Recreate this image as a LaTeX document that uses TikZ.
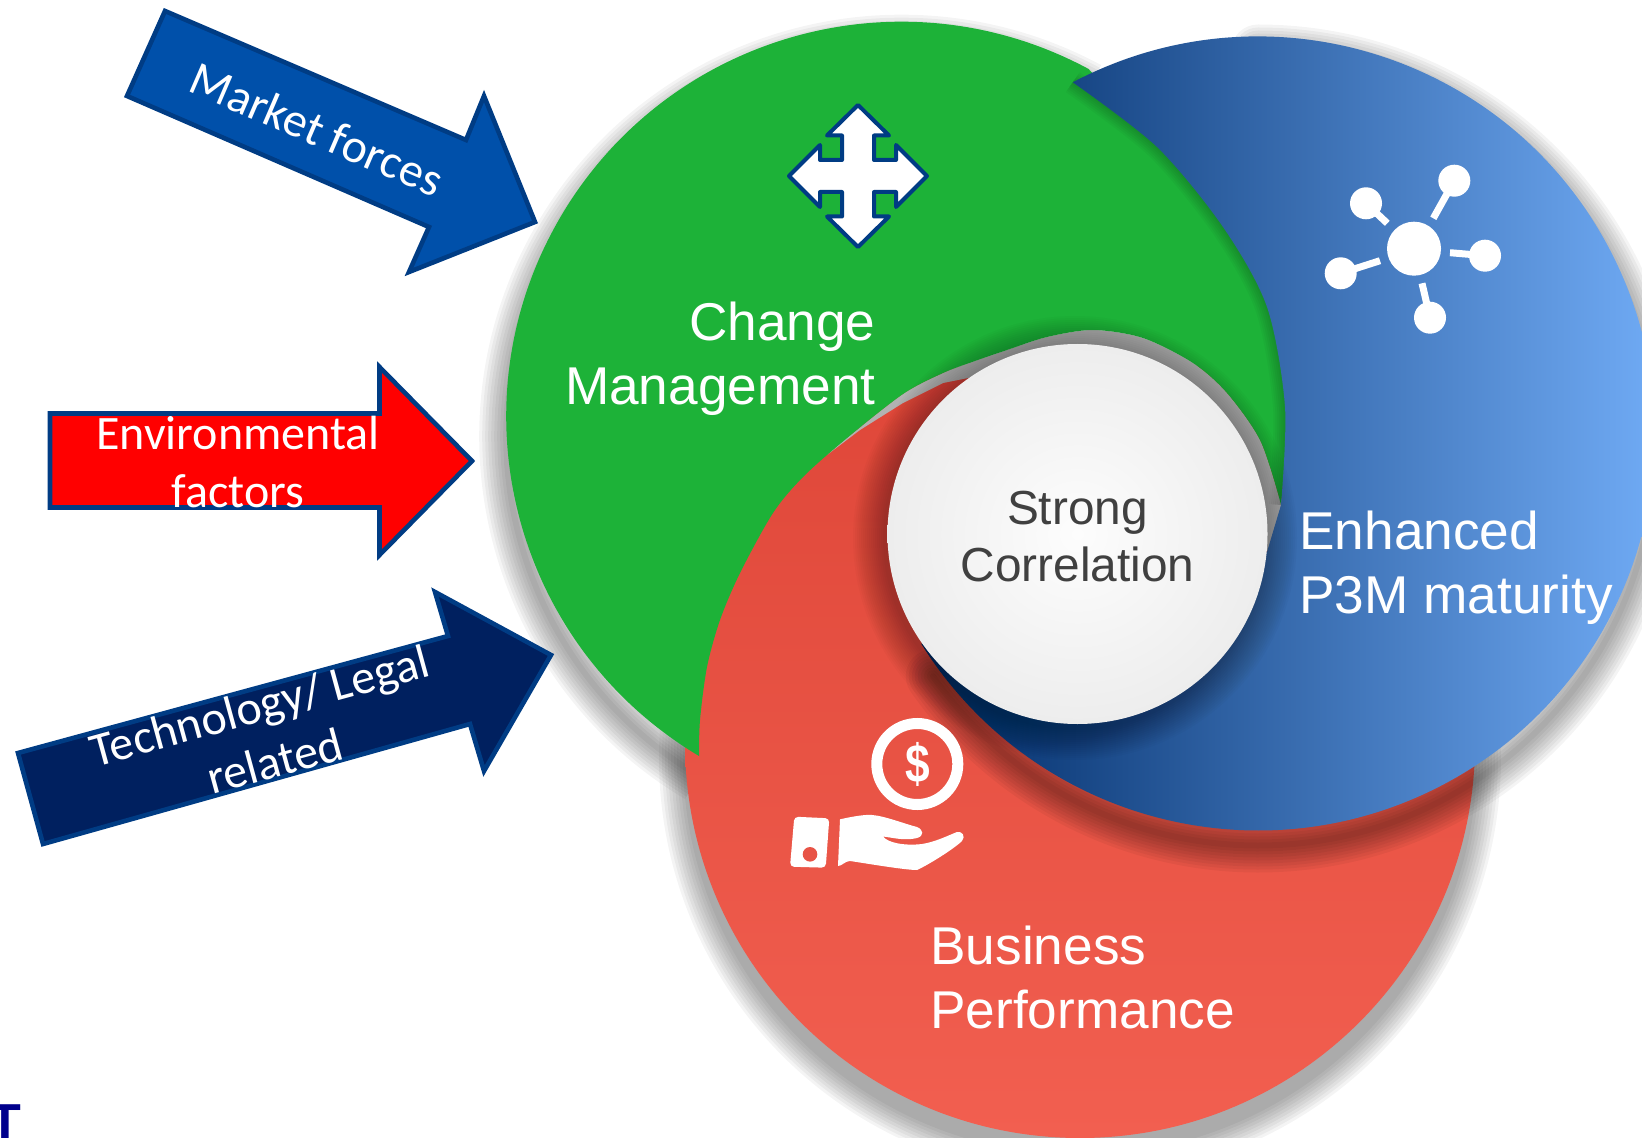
\documentclass[tikz,border=0pt]{standalone}
\usepackage{fontspec}
\usepackage{xcolor}
\setmainfont{Liberation Sans}
\newfontfamily\carfont{Carlito}
\usetikzlibrary{
    calc,
    positioning
}
\definecolor{grnc}{HTML}{1DB238}
\definecolor{edgec}{HTML}{003C84}
\definecolor{mktc}{HTML}{0050AA}
\definecolor{navyc}{HTML}{00205F}
\definecolor{txtc}{HTML}{404040}
\definecolor{redt}{HTML}{DE4638}
\definecolor{redb}{HTML}{F25F50}
\definecolor{redm}{HTML}{E85346}
\definecolor{blul}{HTML}{002C68}
\definecolor{blum}{HTML}{3570B8}
\definecolor{blur}{HTML}{78B4FF}
\definecolor{whti}{HTML}{FDFDFD}
\definecolor{whte}{HTML}{EDEDED}
\definecolor{logoc}{HTML}{00008C}
\tikzset{
    arw/.style={draw=edgec, line width=2.3pt, line join=miter},
    arwtxt/.style={text=white, align=center, inner sep=0pt, font=\carfont\fontsize{24}{28.8}\selectfont},
    lbl/.style={text=white, inner sep=0pt, font=\fontsize{26.6}{32}\selectfont},
    soft/.style={black, opacity=.045},
    ico/.style={white, line width=3.5pt}
}
\newcommand{\greenpath}{(699,756) arc[start angle=120.8, end angle=298.3, radius=395] -- (1300,300) -- (1281,505)
    -- plot[smooth] coordinates {(1279,497) (1260,440) (1227,393) (1193,363) (1143,338) (1093,330) (1047,337) (1007,350) (975,361) (943,373) (903,394) (847,438) (803,477) (773,513) (740,573) (720,620) (707,667) (700,720) (699,756)} -- cycle}
\newcommand{\bluepath}{(1072.8,82.3) arc[start angle=242.2, end angle=508, radius=397] -- (1080,540) -- (1267,552) -- (1281,505)
    -- plot[smooth] coordinates {(1281,505) (1285,407) (1267,307) (1223,227) (1157,147) (1072.8,82.3)} -- cycle}
\begin{document}
\begin{tikzpicture}[x=0.5pt, y=-0.5pt]
    \clip (0,0) rectangle (1642,1138);

    \foreach \w in {6,12,...,54}
        \draw[soft, line width=\w*0.5pt, shift={(0,20)}] (699,756) arc[start angle=120.8, end angle=298.3, radius=395];
    \foreach \rr in {397,400,...,421}
        \fill[soft] (1080,758) circle[radius=\rr];
    \shade[top color=redt, bottom color=redb] (1080,743) circle[radius=395];

    \fill[gray!60] plot[smooth] coordinates {(827,455) (847,438) (903,394) (943,373) (975,361) (1007,350) (1047,337) (1093,330) (1143,338) (1193,363) (1227,393) (1260,440) (1279,497)}
        -- (1284,500) -- (1284,552) -- (1077,534) -- (973,377) -- (943,383) -- (903,403) -- (860,430) -- cycle;
    \fill[grnc] \greenpath;

    \foreach \w in {6,12,...,54}
        \draw[soft, line width=\w*0.5pt, line cap=round, shift={(0,15)}] (1258,36.5) arc[start angle=270, end angle=505, radius=397];
    \foreach \w in {4,8,...,24}
        \draw[black, opacity=.03, line width=\w*0.5pt] plot[smooth] coordinates {(1281,505) (1285,407) (1267,307) (1223,227) (1157,147) (1072.8,82.3)};
    \shade[left color=blul, middle color=blum, right color=blur] \bluepath;

    \foreach \rr in {192,194,...,222}
        \fill[black, opacity=.018] (1075,538) circle[radius=\rr];
    \node[circle, minimum size=190pt, inner sep=0pt, inner color=whti, outer color=whte] (nw) at (1077.5,534) {};
    \node[text=txtc, inner sep=0pt, align=center, font=\fontsize{23.9}{28.5}\selectfont] (ns) at (1077.5,536.5) {Strong\\Correlation};

    \node[lbl, align=right, anchor=east] (nc) at (876,359) {Change\\Management};
    \node[lbl, align=left, anchor=west] (ne) at (1299,568) {Enhanced\\P3M maturity};
    \node[lbl, align=left, anchor=west] (nb) at (930,977) {Business\\Performance};

    \draw[arw, fill=mktc] (165,11) -- (466,140) -- (484,96) -- (535,222) -- (409,272) -- (429,227) -- (127,96) -- cycle;
    \node[arwtxt, rotate=-23.3] (nm) at (317,129) {Market forces};

    \draw[arw, fill=red] (50,413.5) -- (379.5,413.5) -- (379.5,367) -- (472,461) -- (379.5,555) -- (379.5,507.5) -- (50,507.5) -- cycle;
    \node[arwtxt] (nf) at (238,462) {Environmental\\factors};

    \draw[arw, fill=navyc] (18,753) -- (448,636) -- (435,592) -- (551,655) -- (484,771) -- (470,724) -- (43,844) -- cycle;
    \node[arwtxt, rotate=15.3] (nt) at (267,733) {Technology/ Legal\\related};

    \begin{scope}[shift={(858,176)}]
        \draw[fill=white, draw=edgec, line width=2pt, line join=round] (0,-71) -- (31,-40.5) -- (16,-40.5) -- (16,-16) -- (38,-16) -- (38,-31) -- (69,0) -- (38,31) -- (38,16) -- (16,16) -- (16,40.5) -- (31,40.5)
            -- (0,71) -- (-31,40.5) -- (-16,40.5) -- (-16,16) -- (-38,16) -- (-38,31) -- (-69,0) -- (-38,-31) -- (-38,-16) -- (-16,-16) -- (-16,-40.5) -- (-31,-40.5) -- cycle;
    \end{scope}

    \fill[white] (1414,248.7) circle[radius=27];
    \foreach \sx/\sy/\ex/\ey in {1454.3/180.7/1433.3/218.3, 1366/203.3/1387.3/223.3, 1485/255.7/1450/252.7, 1340.7/273.3/1380/260.7, 1430/317.7/1422/283.3} {
        \fill[white] (\sx,\sy) circle[radius=16];
        \draw[ico] (\sx,\sy) -- (\ex,\ey);
    }

    \draw[white, line width=5.5pt] (917.3,764) circle[radius=40.5];
    \node[text=white, inner sep=0pt, font=\bfseries\fontsize{27}{27}\selectfont] (nd) at (917.3,764) {\scalebox{.82}[1]{\$}};
    \fill[white, rounded corners=2pt] (794.3,816.7) -- (829.3,818.3) -- (825.7,867.7) -- (790,866.7) -- cycle;
    \fill[redm] (810,854.3) circle[radius=7.3];
    \fill[white] (840,819.3) .. controls (855,816) and (865,814.5) .. (872,815) .. controls (885,816) and (905,824) .. (917,827)
        .. controls (924,830) and (924,836) .. (917,838) .. controls (905,841) and (895,838) .. (883,836.5)
        .. controls (888,843) and (905,846) .. (922,844) .. controls (935,842) and (947,836) .. (957,832)
        .. controls (962,831) and (966,836) .. (962,841) .. controls (955,848) and (930,864) .. (917,870)
        .. controls (905,870) and (870,864) .. (850,861) .. controls (845,861) and (842,866) .. (838,866) -- cycle;

    \node[text=logoc, inner sep=0pt, anchor=base, font=\bfseries\fontsize{26}{26}\selectfont] (nl) at (5,1140) {T};
\end{tikzpicture}
\end{document}
